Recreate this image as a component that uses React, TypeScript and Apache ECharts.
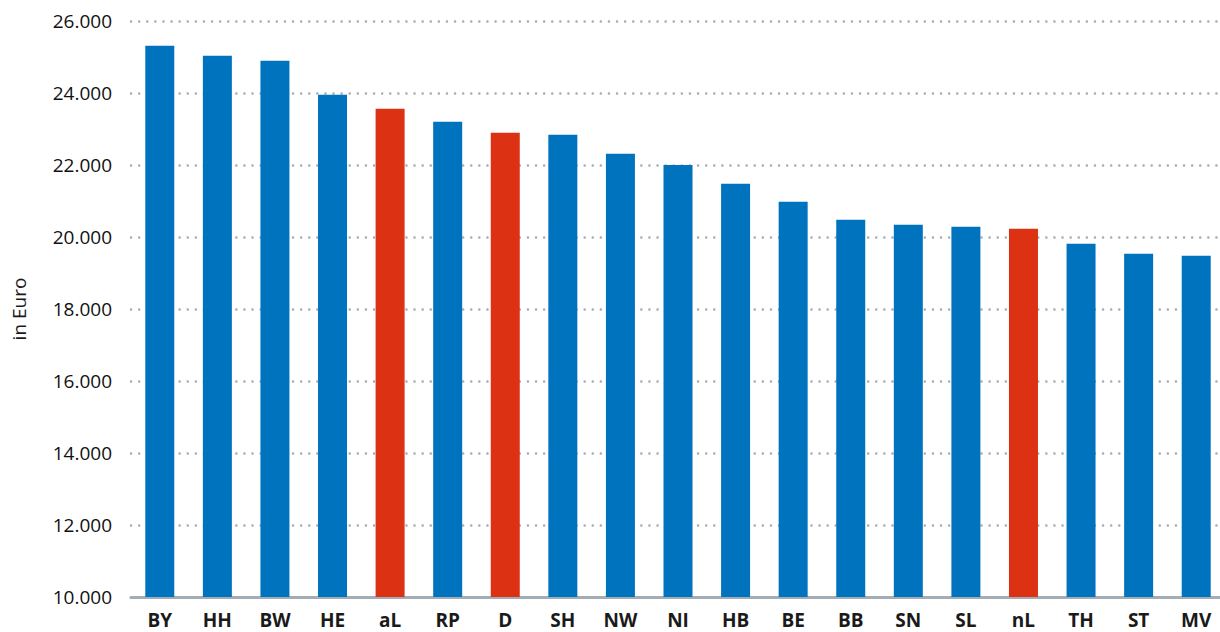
import React, { useEffect, useRef } from "react";
import * as echarts from "echarts";

const categories = ["BY", "HH", "BW", "HE", "aL", "RP", "D", "SH", "NW", "NI", "HB", "BE", "BB", "SN", "SL", "nL", "TH", "ST", "MV"];
const values = [25314, 25036, 24897, 23953, 23564, 23203, 22897, 22842, 22314, 22000, 21481, 20981, 20481, 20342, 20286, 20231, 19814, 19536, 19480];
const highlighted = ["aL", "D", "nL"];
const yTicks = { min: 10000, max: 26000, interval: 2000 };
const yAxisName = "in Euro";

const BLUE = "#0073bf";
const RED = "#dc3213";

export default function App() {
  const ref = useRef<HTMLDivElement>(null);
  useEffect(() => {
    if (!ref.current) return;
    const chart = echarts.init(ref.current, null, { renderer: "svg" });
    chart.setOption({
      animation: false,
      textStyle: { fontFamily: "Open Sans" },
      grid: { left: 131, right: 5, top: 21, bottom: 35, containLabel: false },
      xAxis: {
        type: "category",
        data: categories,
        axisLine: { show: true, lineStyle: { color: "#a3adb5", width: 3 } },
        axisTick: { show: false },
        axisLabel: { fontSize: 19, fontWeight: "bold", color: "#1a1a1a", margin: 13, interval: 0 },
      },
      yAxis: {
        type: "value",
        min: yTicks.min,
        max: yTicks.max,
        interval: yTicks.interval,
        name: yAxisName,
        nameLocation: "middle",
        nameGap: 103,
        nameTextStyle: { fontSize: 19, color: "#1a1a1a" },
        axisLine: { show: false },
        axisTick: { show: false },
        axisLabel: {
          fontSize: 19,
          color: "#111",
          margin: 19,
          formatter: (v: number) => v.toLocaleString("de-DE"),
        },
        splitLine: { show: true, lineStyle: { color: "#a3adb5", width: 2.5, type: [0.1, 8], cap: "round" } },
      },
      series: [
        {
          type: "bar",
          data: values.map((v, i) => ({
            value: v,
            itemStyle: { color: highlighted.includes(categories[i]) ? RED : BLUE },
          })),
          barWidth: 29,
        },
      ],
    });
    return () => chart.dispose();
  }, []);
  return (
    <div style={{ position: "absolute", left: 0, top: 0, width: 1220, height: 632, overflow: "hidden", background: "#fff" }}>
      <div ref={ref} style={{ width: 1230, height: 632 }} />
    </div>
  );
}
